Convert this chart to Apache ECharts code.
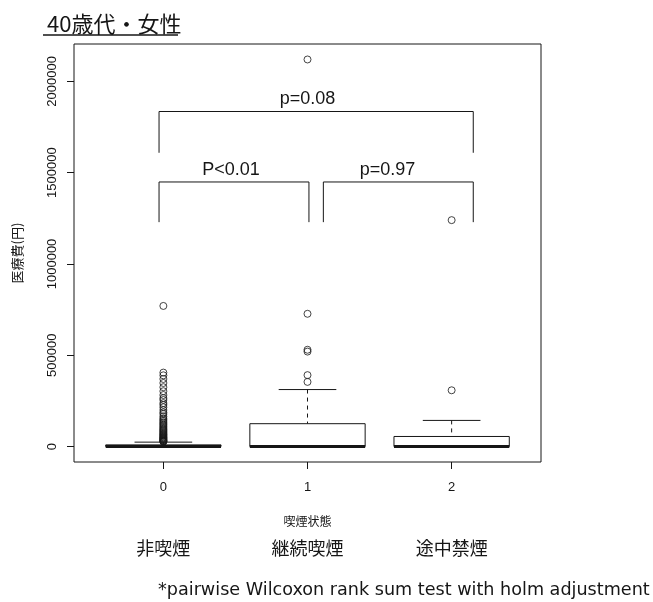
<!DOCTYPE html>
<html>
<head>
<meta charset="utf-8">
<style>html,body{margin:0;padding:0;background:#fff;}#chart{width:653px;height:602px;}</style>
<script src="https://cdn.jsdelivr.net/npm/echarts@6/dist/echarts.min.js"></script>
</head>
<body>
<div id="chart"></div>
<script>
// ---- data ----
const titleText = '40歳代・女性';
const categories = ['非喫煙', '継続喫煙', '途中禁煙'];
const groupCodes = [0, 1, 2];
const yTicks = [0, 500000, 1000000, 1500000, 2000000];
const boxMin = [0, 0, 0];
const boxQ1 = [0, 0, 0];
const boxMedian = [0, 0, 0];
const boxQ3 = [9000, 125000, 55000];
const boxMax = [24000, 312000, 143000];
const outliers0 = [770000, 405000, 390000, 370000, 348000, 325000, 303000, 282000, 265000, 255000,
  238000, 228000, 215000, 200000, 187000, 178000, 165000, 155000, 147000, 140000, 133000, 126000,
  120000, 113000, 107000, 101000, 95000, 90000, 85000, 80000, 75000, 70000, 66000, 62000, 58000,
  54000, 50000, 47000, 44000, 41000, 38000, 35000, 32000, 30000, 28000, 26000];
const outliers1 = [354000, 391000, 520000, 530000, 727000, 2120000];
const outliers2 = [308000, 1240000];
const bracketLabels = ['p=0.08', 'P<0.01', 'p=0.97'];
const bracketFrom = [-0.03, -0.03, 1.11];
const bracketTo = [2.15, 1.01, 2.15];
const bracketTop = [1835000, 1449000, 1449000];
const bracketFoot = [1609000, 1229000, 1229000];
const bracketLabelX = [1.0, 0.47, 1.555];
const yAxisTitle = '医療費(円)';
const xAxisTitle = '喫煙状態';
const footnote = '*pairwise Wilcoxon rank sum test with holm adjustment';

// ---- build ----
const ink = '#161616';
const latin = '"Liberation Sans", Arial, sans-serif';
const cjk = '"Noto Sans CJK JP", sans-serif';

const boxData = groupCodes.map((g, i) => [g, boxMin[i], boxQ1[i], boxMedian[i], boxQ3[i], boxMax[i]]);
const outlierData = []
  .concat(outliers0.map(v => [0, v]))
  .concat(outliers1.map(v => [1, v]))
  .concat(outliers2.map(v => [2, v]));
const bracketData = bracketLabels.map((l, i) => [bracketFrom[i], bracketTo[i], bracketTop[i], bracketFoot[i], bracketLabelX[i], i]);

function renderBox(params, api) {
  const x = api.value(0);
  const mn = api.value(1), q1 = api.value(2), md = api.value(3), q3 = api.value(4), mx = api.value(5);
  const tl = api.coord([x - 0.4, q3]);
  const br = api.coord([x + 0.4, q1]);
  const cx = api.coord([x, 0])[0];
  const capL = api.coord([x - 0.2, 0])[0];
  const capR = api.coord([x + 0.2, 0])[0];
  const yMx = api.coord([x, mx])[1];
  const yMn = api.coord([x, mn])[1];
  const yMd = api.coord([x, md])[1];
  const s = { stroke: ink, lineWidth: 1, fill: null };
  return {
    type: 'group',
    children: [
      { type: 'line', shape: { x1: cx, y1: yMx, x2: cx, y2: tl[1] }, style: Object.assign({}, s, { lineDash: [4, 4] }) },
      { type: 'line', shape: { x1: cx, y1: br[1], x2: cx, y2: yMn }, style: Object.assign({}, s, { lineDash: [4, 4] }) },
      { type: 'line', shape: { x1: capL, y1: yMx, x2: capR, y2: yMx }, style: s },
      { type: 'line', shape: { x1: capL, y1: yMn, x2: capR, y2: yMn }, style: s },
      { type: 'rect', shape: { x: tl[0], y: tl[1], width: br[0] - tl[0], height: br[1] - tl[1] }, style: { stroke: ink, lineWidth: 1, fill: '#fff' } },
      { type: 'line', shape: { x1: tl[0], y1: yMd, x2: br[0], y2: yMd }, style: { stroke: ink, lineWidth: 3 } }
    ]
  };
}

function renderBracket(params, api) {
  const x1 = api.value(0), x2 = api.value(1), top = api.value(2), foot = api.value(3), lx = api.value(4);
  const idx = api.value(5);
  const a = api.coord([x1, foot]), b = api.coord([x1, top]), c = api.coord([x2, top]), d = api.coord([x2, foot]);
  const lp = api.coord([lx, top]);
  return {
    type: 'group',
    children: [
      { type: 'polyline', shape: { points: [a, b, c, d] }, style: { stroke: ink, lineWidth: 1, fill: null } },
      { type: 'text', x: lp[0], y: lp[1] - 3, style: { text: bracketLabels[idx], fill: ink, font: '18px ' + latin, align: 'center', verticalAlign: 'bottom' } }
    ]
  };
}

const chart = echarts.init(document.getElementById('chart'), null, { renderer: 'canvas' });
chart.setOption({
  animation: false,
  backgroundColor: '#fff',
  title: {
    text: titleText, left: 42, top: 8,
    textStyle: { fontSize: 22, fontWeight: 'normal', color: ink, fontFamily: cjk }
  },
  graphic: [
    { type: 'line', shape: { x1: 43, y1: 35, x2: 178, y2: 35 }, style: { stroke: ink, lineWidth: 1.5 } },
    { type: 'text', left: 158, top: 581, style: { text: footnote, fill: ink, font: '17.6px "DejaVu Sans", sans-serif' } }
  ],
  grid: { left: 74, right: 112, top: 44, bottom: 140, show: true, borderColor: ink, borderWidth: 1, backgroundColor: 'transparent' },
  xAxis: [
    {
      type: 'value', min: -0.62, max: 2.62,
      axisLine: { show: false, onZero: false },
      splitLine: { show: false },
      axisTick: { show: true, inside: false, length: 7, customValues: groupCodes, lineStyle: { color: ink } },
      axisLabel: { customValues: groupCodes, margin: 19, fontSize: 13, color: ink, fontFamily: latin },
      name: xAxisTitle, nameLocation: 'middle', nameGap: 53,
      nameTextStyle: { fontSize: 12, color: ink, fontFamily: cjk }
    },
    {
      type: 'value', min: -0.62, max: 2.62, position: 'bottom',
      axisLine: { show: false, onZero: false }, axisTick: { show: false }, splitLine: { show: false },
      axisLabel: { customValues: groupCodes, margin: 77, fontSize: 18, color: ink, fontFamily: cjk, formatter: v => categories[Math.round(v)] }
    }
  ],
  yAxis: {
    type: 'value', min: -84800, max: 2204800,
    axisLine: { show: false, onZero: false },
    splitLine: { show: false },
    axisTick: { show: true, inside: false, length: 7, customValues: yTicks, lineStyle: { color: ink } },
    axisLabel: { customValues: yTicks, rotate: 90, margin: 15, fontSize: 13, color: ink, fontFamily: latin, formatter: v => String(v) },
    name: yAxisTitle, nameLocation: 'middle', nameRotate: 90, nameGap: 50,
    nameTextStyle: { fontSize: 13, color: ink, fontFamily: cjk }
  },
  series: [
    { type: 'custom', xAxisIndex: 0, renderItem: renderBox, data: boxData, encode: { x: 0, y: [1, 5] }, z: 2 },
    {
      type: 'scatter', xAxisIndex: 0, data: outlierData, symbol: 'circle', symbolSize: 7,
      itemStyle: { color: 'rgba(0,0,0,0)', borderColor: ink, borderWidth: 1 }, z: 3
    },
    { type: 'custom', xAxisIndex: 0, renderItem: renderBracket, data: bracketData, encode: { x: [0, 1], y: [2, 3] }, z: 4 }
  ]
});
</script>
</body>
</html>
